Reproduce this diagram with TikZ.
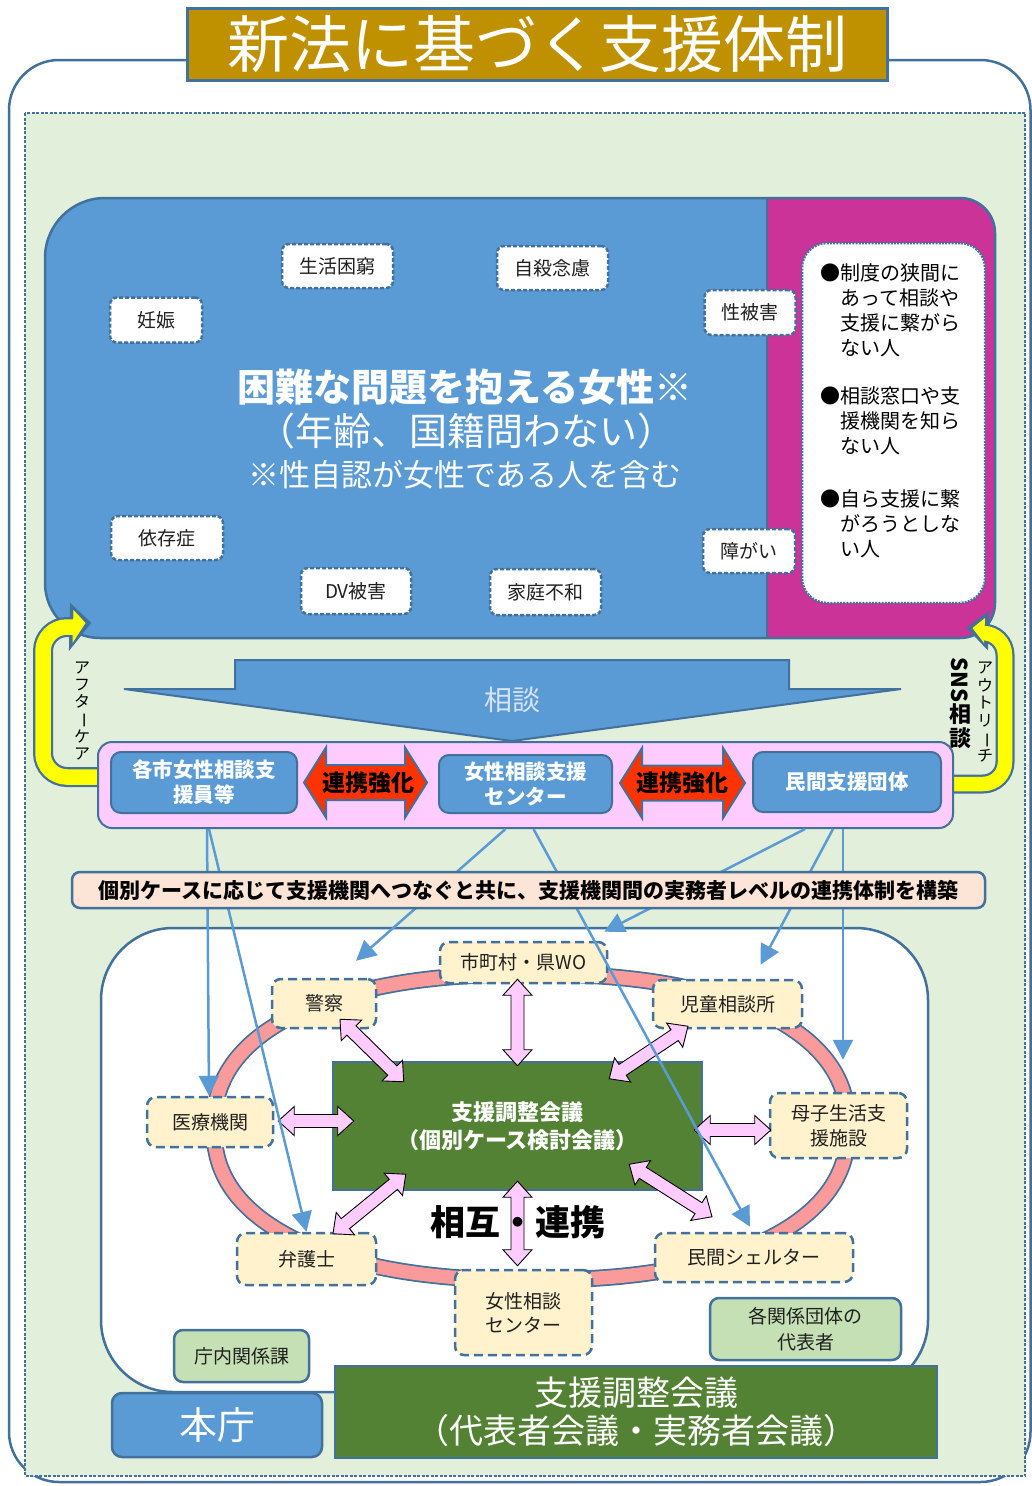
\documentclass[tikz,border=0pt]{standalone}
\usepackage{fontspec}
\usepackage{graphicx}
\setmainfont{Noto Sans CJK JP}
\usetikzlibrary{calc,arrows.meta}
\definecolor{bord}{HTML}{41719C}
\definecolor{mblue}{HTML}{5B9BD5}
\definecolor{lblue}{HTML}{5B9BD5}
\definecolor{magA}{HTML}{CC3399}
\definecolor{lgreen}{HTML}{E2EFDA}
\definecolor{pinkA}{HTML}{FFCCFF}
\definecolor{redA}{HTML}{FF3300}
\definecolor{peach}{HTML}{FCE4D6}
\definecolor{salmon}{HTML}{FA9A9A}
\definecolor{cream}{HTML}{FFF2CC}
\definecolor{dgreen}{HTML}{548235}
\definecolor{mgreen}{HTML}{C5E0B4}
\definecolor{gold}{HTML}{BF9000}
\definecolor{txt}{HTML}{202020}
\definecolor{paleT}{HTML}{DAE3F3}
\definecolor{yel}{HTML}{FFFF00}
\newcommand{\myfs}[2]{\fontsize{#1pt}{#2pt}\selectfont}
\newcommand{\topboxpath}[1]{\path[#1] (45,420) [rounded corners=60pt] |- (600,198) [rounded corners=35pt] -| (995,420) |- (600,638) [rounded corners=55pt] -| (45,420) -- cycle;}
% fat double arrow: [style]{A}{B}{shaft half}{head half}{head length}
\newcommand{\fatdbl}[6][]{%
  \coordinate (fdA) at #2;
  \coordinate (fdB) at #3;
  \coordinate (fdAa) at ($(fdA)!#6!(fdB)$);
  \coordinate (fdBb) at ($(fdB)!#6!(fdA)$);
  \draw[#1] (fdA) -- ($(fdAa)!#5!90:(fdB)$) -- ($(fdAa)!#4!90:(fdB)$) -- ($(fdBb)!#4!-90:(fdA)$) -- ($(fdBb)!#5!-90:(fdA)$) -- (fdB) -- ($(fdBb)!#5!90:(fdA)$) -- ($(fdBb)!#4!90:(fdA)$) -- ($(fdAa)!#4!-90:(fdB)$) -- ($(fdAa)!#5!-90:(fdB)$) -- cycle;
}
\begin{document}
\begin{tikzpicture}[x=1pt,y=-1pt,
  tagA/.style={draw=bord, fill=white, line width=2.5pt, dash pattern=on 4pt off 2pt, rounded corners=7pt, inner sep=0pt, font=\myfs{19}{22}, text=txt},
  tagB/.style={draw=bord, fill=cream, line width=2.5pt, dash pattern=on 9pt off 5pt, rounded corners=9pt, inner sep=0pt, align=center, font=\myfs{19}{25}, text=txt},
  ibox/.style={draw=bord, fill=mblue, line width=2pt, rounded corners=10pt, inner sep=0pt, align=center, text=white, font=\bfseries\myfs{20.5}{25}},
  gbox/.style={draw=bord, fill=mgreen, line width=2.5pt, rounded corners=9pt, inner sep=0pt, align=center, font=\myfs{19}{26}, text=txt},
  bl/.style={draw=lblue, line width=2.5pt, -{Triangle[width=20pt,length=20pt]}},
  pa/.style={fill=pinkA, draw=black, line width=0.9pt, line join=miter},
  ra/.style={fill=redA, draw=bord, line width=2pt, line join=miter}
]
\useasboundingbox (0,0) rectangle (1032,1486);
% frame
\draw[bord, line width=2.5pt, fill=white, rounded corners=50pt] (9,60) rectangle (1030.5,1482);
\draw[bord, fill=lgreen, line width=1.5pt, dash pattern=on 3pt off 1.5pt] (25,113) rectangle (1025,1476);
% title
\node[fill=gold, draw=bord, line width=3pt, minimum width=700pt, minimum height=72pt, inner sep=0pt, text=white, font=\myfs{62}{64}] (title) at (537,44) {新法に基づく支援体制};
% top box
\topboxpath{fill=mblue}
\begin{scope}
\topboxpath{clip}
\fill[magA] (767,190) rectangle (1000,650);
\end{scope}
\topboxpath{draw=bord, line width=2.5pt}
\draw[bord, line width=1.5pt] (767,198) -- (767,638);
% criteria box
\node[draw=bord, fill=white, line width=2.5pt, dash pattern=on 2pt off 1.2pt, rounded corners=25pt, minimum width=183pt, minimum height=360pt, inner sep=0pt] (crit) at (893.5,423) {};
\node[anchor=north west, inner sep=0pt, align=left, font=\myfs{20}{25}, text=black] (c1) at (820,263) {●制度の狭間に\\\phantom{●}あって相談や\\\phantom{●}支援に繋がら\\\phantom{●}ない人};
\node[anchor=north west, inner sep=0pt, align=left, font=\myfs{20}{25}, text=black] (c2) at (820,386) {●相談窓口や支\\\phantom{●}援機関を知ら\\\phantom{●}ない人};
\node[anchor=north west, inner sep=0pt, align=left, font=\myfs{20}{25}, text=black] (c3) at (820,489) {●自ら支援に繋\\\phantom{●}がろうとしな\\\phantom{●}い人};
% tags in top box
\node[tagA, minimum width=111pt, minimum height=44pt] (seikatsu) at (337.5,266) {生活困窮};
\node[tagA, minimum width=111pt, minimum height=44pt] (jisatsu) at (552.5,268) {自殺念慮};
\node[tagA, minimum width=92pt, minimum height=45pt] (ninshin) at (156,320) {妊娠};
\node[tagA, minimum width=91pt, minimum height=45pt] (seihigai) at (750,312.5) {性被害};
\node[tagA, minimum width=112pt, minimum height=44pt] (izon) at (167,538) {依存症};
\node[tagA, minimum width=110pt, minimum height=46pt] (dv) at (356,591) {DV被害};
\node[tagA, minimum width=111pt, minimum height=46pt] (katei) at (545.5,592) {家庭不和};
\node[tagA, minimum width=92pt, minimum height=44pt] (shogai) at (749,551) {障がい};
% main texts
\node[font=\bfseries\myfs{38}{40}, text=white, inner sep=0pt] (t1) at (465,387) {困難な問題を抱える女性※};
\node[font=\myfs{38}{40}, text=white, inner sep=0pt] (t2) at (466,431) {（年齢、国籍問わない）};
\node[font=\myfs{31}{33}, text=white, inner sep=0pt] (t3) at (465,475) {※性自認が女性である人を含む};
% soudan arrow
\filldraw[fill=mblue, draw=bord, line width=2pt, line join=miter] (235,660) -- (789,660) -- (789,689) -- (901,689) -- (512,741) -- (124,689) -- (235,689) -- cycle;
\node[font=\myfs{28}{30}, text=paleT, inner sep=0pt] (soudan) at (512,700) {相談};
% yellow arrows
\draw[bord, line width=20pt, rounded corners=24pt] (105,777) -- (43,777) -- (43,627) -- (74,627);
\filldraw[bord, line width=2pt, line join=miter] (71,605) -- (90,623) -- (70,648) -- cycle;
\draw[yel, line width=15.5pt, rounded corners=24pt] (106,777) -- (43,777) -- (43,627) -- (76,627);
\fill[yel] (73.5,610) -- (85.5,623) -- (72.5,643) -- cycle;
\draw[bord, line width=19pt, rounded corners=22pt] (945,784) -- (1005,784) -- (1005,633) -- (985,633);
\filldraw[bord, line width=2pt, line join=miter] (988,613) -- (968,628) -- (987,648) -- cycle;
\draw[yel, line width=14.5pt, rounded corners=22pt] (944,784) -- (1005,784) -- (1005,633) -- (983,633);
\fill[yel] (985,618) -- (972.5,628) -- (984,643) -- cycle;
\node[font=\myfs{16}{17}, align=center, text=black, inner sep=0pt] (after) at (82,711) {ア\\フ\\タ\\\rotatebox[origin=c]{-90}{ー}\\ケ\\ア};
\node[font=\myfs{16}{17.5}, align=center, text=black, inner sep=0pt] (outreach) at (985,712) {ア\\ウ\\ト\\リ\\\rotatebox[origin=c]{-90}{ー}\\チ};
\node[font=\bfseries\myfs{22}{24}, align=center, text=black, inner sep=0pt] (sns) at (960,703) {\rotatebox[origin=c]{-90}{SNS}\\相\\談};
% lower white box
\draw[bord, line width=2.5pt, fill=white, rounded corners=72pt] (101,928) rectangle (928,1392);
% ring
\draw[bord, line width=17pt] plot[domain=0:360, samples=241, variable=\t] ({531+317*cos(\t)*(abs(cos(\t))+0.0001)^(-0.13)}, {1127+153*sin(\t)*(abs(sin(\t))+0.0001)^(-0.13)}) -- cycle;
\draw[salmon, line width=13.5pt] plot[domain=0:360, samples=241, variable=\t] ({531+317*cos(\t)*(abs(cos(\t))+0.0001)^(-0.13)}, {1127+153*sin(\t)*(abs(sin(\t))+0.0001)^(-0.13)}) -- cycle;
% ring tags
\node[tagB, minimum width=167pt, minimum height=41pt] (shichoson) at (523.5,962.5) {市町村・県WO};
\node[tagB, minimum width=104pt, minimum height=49pt] (keisatsu) at (324,1003.5) {警察};
\node[tagB, minimum width=149pt, minimum height=48pt] (jido) at (727.5,1004) {児童相談所};
\node[tagB, minimum width=126pt, minimum height=50pt] (iryo) at (210,1122) {医療機関};
\node[tagB, minimum width=137pt, minimum height=65pt] (boshi) at (838.5,1125.5) {母子生活支\\援施設};
\node[tagB, minimum width=139pt, minimum height=52pt] (bengo) at (306.5,1259) {弁護士};
\node[tagB, minimum width=198pt, minimum height=49pt] (shelter) at (754,1257.5) {民間シェルター};
\node[tagB, minimum width=137pt, minimum height=85pt, font=\myfs{19}{24}] (josei) at (523.5,1312.5) {女性相談\\センター};
% center meeting box
\node[draw=bord, fill=dgreen, line width=2.5pt, minimum width=369pt, minimum height=128pt, inner sep=0pt, align=center, text=white, font=\bfseries\myfs{22}{28}] (kaigi) at (517.5,1126) {支援調整会議\\（個別ケース検討会議）};
% pink double arrows
\fatdbl[pa]{($(kaigi.north |- shichoson.south)+(0,-5)$)}{($(kaigi.north)+(0,5)$)}{6.5pt}{14.5pt}{16pt}
\fatdbl[pa]{($(keisatsu.south)+(16,-10)$)}{($(kaigi.north west)+(72,21)$)}{6.5pt}{14.5pt}{16pt}
\fatdbl[pa]{($(iryo.east)+(4,-1)$)}{($(iryo.east -| kaigi.west)+(22,-1)$)}{6.5pt}{14.5pt}{16pt}
\fatdbl[pa]{($(bengo.north)+(26.5,2)$)}{($(kaigi.south west)+(74,-17)$)}{6.5pt}{14.5pt}{16pt}
\fatdbl[pa]{($(kaigi.south |- josei.north)+(0,-3)$)}{($(kaigi.south)+(0,-10)$)}{6.5pt}{14.5pt}{16pt}
\fatdbl[pa]{($(jido.south)+(-39.5,-3)$)}{($(kaigi.north east)+(-94,18)$)}{6.5pt}{14.5pt}{16pt}
\fatdbl[pa]{($(boshi.west)+(2,4.5)$)}{($(boshi.west -| kaigi.east)+(-9,4.5)$)}{6.5pt}{14.5pt}{16pt}
\fatdbl[pa]{($(shelter.north)+(-42,-15)$)}{($(kaigi.south east)+(-74,-27)$)}{6.5pt}{14.5pt}{16pt}
\node[font=\bfseries\myfs{35}{37}, text=black, inner sep=0pt] (sogo) at (518,1222) {相互・連携};
% bottom
\node[gbox, minimum width=135pt, minimum height=52pt] (chonai) at (241.5,1356) {庁内関係課};
\node[gbox, minimum width=191pt, minimum height=62pt] (kakukankei) at (805.5,1329) {各関係団体の\\代表者};
\node[draw=bord, fill=mblue, line width=2.5pt, rounded corners=10pt, minimum width=210pt, minimum height=64pt, inner sep=0pt, text=white, font=\myfs{38}{40}] (honcho) at (217,1425) {本庁};
\node[draw=bord, fill=dgreen, line width=2.5pt, minimum width=602pt, minimum height=92pt, inner sep=0pt, align=center, text=white, font=\myfs{34}{38}] (kaigi2) at (636,1412) {支援調整会議\\（代表者会議・実務者会議）};
% band
\node[draw=bord, fill=pinkA, line width=2pt, rounded corners=14pt, minimum width=855pt, minimum height=86pt, inner sep=0pt] (band) at (525.5,785) {};
\node[ibox, minimum width=186pt, minimum height=61pt] (kaku) at (204,782.5) {各市女性相談支\\援員等};
\node[ibox, minimum width=173pt, minimum height=58pt] (cent) at (525.5,784) {女性相談支援\\センター};
\node[ibox, minimum width=188pt, minimum height=60pt] (minkan) at (847,782) {民間支援団体};
\fatdbl[ra]{($(kaku.east)+(6,0)$)}{($(kaku.east -| cent.west)+(-11,0)$)}{17.5pt}{35pt}{22pt}
\fatdbl[ra]{($(cent.east)+(7,-1)$)}{($(cent.east -| minkan.west)+(-7,-1)$)}{17.5pt}{35pt}{22pt}
\node[font=\bfseries\myfs{23}{25}, text=black, inner sep=0pt] (rk1) at ($(kaku.east)!0.5!(kaku.east -| cent.west)$) {連携強化};
\node[font=\bfseries\myfs{23}{25}, text=black, inner sep=0pt] (rk2) at ($(cent.east)!0.5!(cent.east -| minkan.west)+(0,-1)$) {連携強化};
% blue lines
\draw[bl] ($(kaku.south |- band.south)+(3,0)$) -- ($(iryo.north)+(-1,0)$);
\draw[bl] ($(kaku.south |- band.south)+(5,0)$) -- (bengo.north);
\draw[bl] ($(cent.south |- band.south)+(-20,0)$) -- ($(keisatsu.north)+(32,-17)$);
\draw[bl] ($(cent.south |- band.south)+(8,0)$) -- ($(shelter.north)+(-4,-5)$);
\draw[bl] ($(minkan.south |- band.south)+(-42,0)$) -- ($(shichoson.north east)+(-4,-9)$);
\draw[bl] ($(minkan.south |- band.south)+(-14,0)$) -- ($(jido.north)+(33,-14)$);
\draw[bl] ($(minkan.south |- band.south)+(-4,0)$) -- ($(minkan.south |- boshi.north)+(-4,-32)$);
% banner
\node[draw=bord, fill=peach, line width=2.5pt, rounded corners=8pt, minimum width=913pt, minimum height=36pt, inner sep=0pt, font=\bfseries\myfs{21}{23}, text=black] (banner) at (528.5,890) {個別ケースに応じて支援機関へつなぐと共に、支援機関間の実務者レベルの連携体制を構築};
\end{tikzpicture}
\end{document}
